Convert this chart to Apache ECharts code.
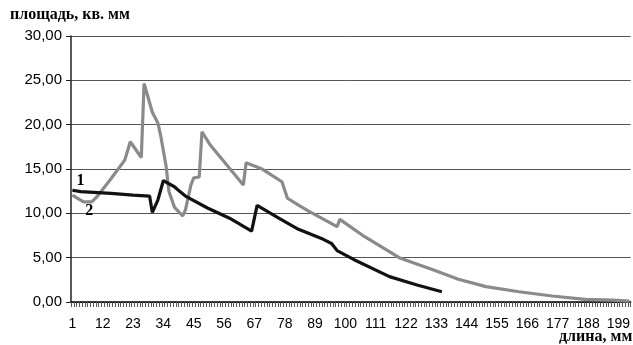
<!DOCTYPE html>
<html>
<head>
<meta charset="utf-8">
<script src="https://cdn.jsdelivr.net/npm/echarts@6/dist/echarts.min.js"></script>
<style>
html,body{margin:0;padding:0;background:#fff;}
#c{width:633px;height:345px;}
</style>
</head>
<body>
<div id="c"></div>
<script>
// Category axis: length, mm (1..203)
var categoryCount = 203;
var categories = [];
for (var i = 1; i <= categoryCount; i++) categories.push(String(i));

// Series 1 (black): [length, area] anchor points
var series1Len  = [1, 4, 15, 23, 29, 30, 32, 34, 38, 40, 42, 50, 58, 66, 68, 76, 83, 92, 95, 97, 103, 116, 126, 135];
var series1Area = [12.6, 12.45, 12.25, 12.05, 11.95, 10.1, 11.5, 13.7, 13.0, 12.45, 11.95, 10.6, 9.45, 8.0, 10.9, 9.43, 8.2, 7.07, 6.6, 5.8, 4.8, 2.86, 1.92, 1.16];

// Series 2 (gray)
var series2Len  = [1, 5, 8, 10, 15, 20, 22, 26, 27, 30, 32, 33, 35, 36, 38, 41, 42, 44, 45, 47, 48, 51, 63, 64, 70, 77, 79, 83, 87, 97, 98, 107, 120, 132, 141, 151, 163, 175, 187, 197, 203];
var series2Area = [12.06, 11.3, 11.3, 11.9, 13.9, 16.0, 18.07, 16.3, 24.65, 21.4, 20.2, 18.8, 15.3, 12.5, 10.7, 9.7, 10.4, 13.2, 14.0, 14.1, 19.2, 17.7, 13.2, 15.7, 14.96, 13.56, 11.7, 10.93, 10.2, 8.5, 9.32, 7.36, 4.93, 3.6, 2.56, 1.73, 1.16, 0.68, 0.3, 0.22, 0.1];

// Y ticks
var yMin = 0, yMax = 30, yStep = 5;

function pairs(lens, vals) {
  return lens.map(function (l, i) { return [String(l), vals[i]]; });
}

var chart = echarts.init(document.getElementById('c'), null, {renderer: 'canvas'});
chart.setOption({
  backgroundColor: '#fff',
  animation: false,
  grid: {left: 71, top: 36, right: 1, bottom: 43, containLabel: false},
  xAxis: {
    type: 'category',
    data: categories,
    boundaryGap: true,
    axisLine: {lineStyle: {color: '#000', width: 1.5}},
    axisTick: {show: true, interval: 0, length: 5, lineStyle: {color: '#555', width: 1}},
    axisLabel: {interval: 10, margin: 15, color: '#000', fontFamily: 'Liberation Sans', fontSize: 14},
    splitLine: {show: false}
  },
  yAxis: {
    type: 'value',
    min: yMin, max: yMax, interval: yStep,
    axisLine: {show: true, lineStyle: {color: '#222', width: 1.5}},
    axisTick: {show: true, length: 5, lineStyle: {color: '#222'}},
    axisLabel: {
      margin: 9, color: '#000', fontFamily: 'Liberation Sans', fontSize: 15,
      formatter: function (v) { return v.toFixed(2).replace('.', ','); }
    },
    splitLine: {show: true, lineStyle: {color: '#555', width: 1}}
  },
  graphic: [
    {type: 'text', left: 10, top: 7, style: {text: 'площадь, кв. мм', fontFamily: 'Liberation Serif', fontWeight: 'bold', fontSize: 16, fill: '#000'}},
    {type: 'text', left: 559, top: 329, style: {text: 'длина, мм', fontFamily: 'Liberation Serif', fontWeight: 'bold', fontSize: 16, fill: '#000'}}
  ],
  series: [
    {
      name: '2', type: 'line', data: pairs(series2Len, series2Area),
      showSymbol: false, symbol: 'none',
      lineStyle: {color: '#8a8a8a', width: 3.2},
      markPoint: {
        symbol: 'circle', symbolSize: 0,
        data: [{coord: ['6', 11.3], label: {show: true, formatter: '2', offset: [3, 9], color: '#000', fontFamily: 'Liberation Serif', fontWeight: 'bold', fontSize: 16}}]
      },
      z: 2
    },
    {
      name: '1', type: 'line', data: pairs(series1Len, series1Area),
      showSymbol: false, symbol: 'none',
      lineStyle: {color: '#111', width: 3.2},
      markPoint: {
        symbol: 'circle', symbolSize: 0,
        data: [{coord: ['1', 12.6], label: {show: true, formatter: '1', offset: [8, -9], color: '#000', fontFamily: 'Liberation Serif', fontWeight: 'bold', fontSize: 16}}]
      },
      z: 3
    }
  ]
});
</script>
</body>
</html>
